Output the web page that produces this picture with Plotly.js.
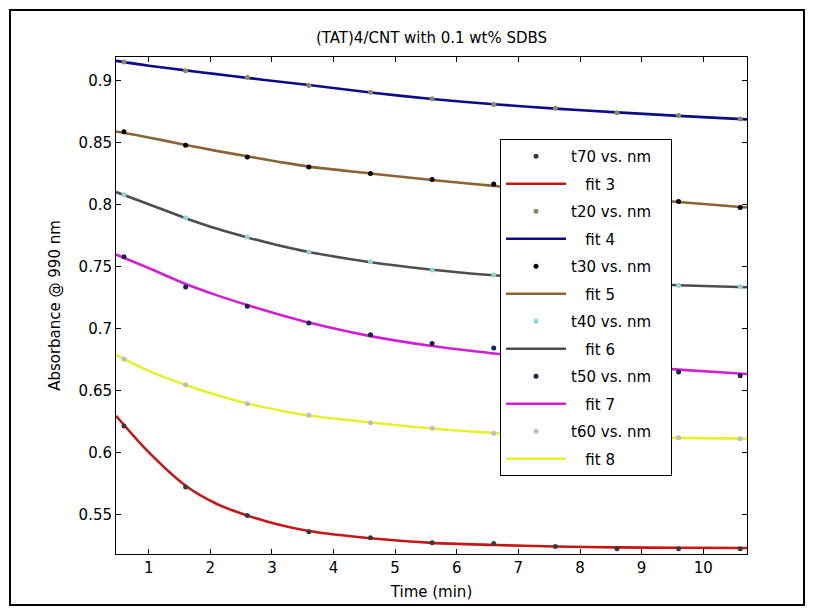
<!DOCTYPE html>
<html>
<head>
<meta charset="utf-8">
<script src="https://cdn.plot.ly/plotly-3.0.1.min.js"></script>
<style>html,body{margin:0;padding:0;background:#fff;}#chart{width:814px;height:615px;}</style>
</head>
<body>
<div id="chart"></div>
<script>
// measurement times (min)
const time = [0.6, 1.6, 2.6, 3.6, 4.6, 5.6, 6.6, 7.6, 8.6, 9.6, 10.6];
const fitTime = [0.47, 1.0, 1.6, 2.1, 2.6, 3.1, 3.6, 4.6, 5.6, 6.6, 7.6, 8.6, 9.6, 10.71];

// data series (absorbance @ 990 nm)
const t70 = [0.6215, 0.5725, 0.5495, 0.5365, 0.5315, 0.5275, 0.527, 0.5245, 0.5228, 0.5228, 0.5228];
const t20 = [0.9148, 0.9078, 0.9022, 0.8958, 0.8905, 0.8852, 0.8806, 0.8775, 0.8738, 0.8716, 0.8688];
const t30 = [0.8585, 0.8478, 0.8383, 0.8302, 0.825, 0.8202, 0.8165, 0.8105, 0.8062, 0.8024, 0.7975];
const t40 = [0.8078, 0.7893, 0.7738, 0.7615, 0.7538, 0.7472, 0.7433, 0.7392, 0.7372, 0.7348, 0.7337];
const t50 = [0.758, 0.7335, 0.718, 0.7045, 0.695, 0.688, 0.6845, 0.676, 0.6705, 0.665, 0.662];
const t60 = [0.6755, 0.6548, 0.6395, 0.6302, 0.6242, 0.6198, 0.6158, 0.6142, 0.6126, 0.6122, 0.6113];

// fitted curves
const fit3 = [0.6298, 0.6005, 0.5735, 0.559, 0.5495, 0.5422, 0.537, 0.5312, 0.5275, 0.5258, 0.5245, 0.5238, 0.5235, 0.5233];
const fit4 = [0.9157, 0.9118, 0.908, 0.905, 0.902, 0.899, 0.8962, 0.8902, 0.885, 0.8808, 0.8772, 0.8742, 0.8714, 0.8686];
const fit5 = [0.8588, 0.854, 0.848, 0.8432, 0.8388, 0.8345, 0.8305, 0.825, 0.8198, 0.815, 0.8105, 0.8062, 0.802, 0.7976];
const fit6 = [0.81, 0.8002, 0.789, 0.7806, 0.7735, 0.7672, 0.7618, 0.7535, 0.7475, 0.743, 0.7395, 0.737, 0.735, 0.7333];
const fit7 = [0.7597, 0.7488, 0.736, 0.727, 0.719, 0.7117, 0.705, 0.694, 0.686, 0.68, 0.675, 0.6705, 0.667, 0.6635];
const fit8 = [0.6788, 0.666, 0.6546, 0.6465, 0.6398, 0.6345, 0.63, 0.6244, 0.6196, 0.616, 0.614, 0.6128, 0.612, 0.6114];

// labels
const dataNames = ['t70 vs. nm', 't20 vs. nm', 't30 vs. nm', 't40 vs. nm', 't50 vs. nm', 't60 vs. nm'];
const fitNames = ['fit 3', 'fit 4', 'fit 5', 'fit 6', 'fit 7', 'fit 8'];
const yTicks = [0.55, 0.6, 0.65, 0.7, 0.75, 0.8, 0.85, 0.9];
const yTickText = ['0.55', '0.6', '0.65', '0.7', '0.75', '0.8', '0.85', '0.9'];
const xTicks = [1, 2, 3, 4, 5, 6, 7, 8, 9, 10];

const dataSeries = [t70, t20, t30, t40, t50, t60];
const fitSeries = [fit3, fit4, fit5, fit6, fit7, fit8];
const dataColors = ['#3a3a3a', '#8a8a6a', '#000000', '#8fd6d0', '#202050', '#bdbdbd'];
const fitColors = ['#c41818', '#0c0c88', '#8a6434', '#4e4e4e', '#d020d0', '#e6f030'];

const FONT = 'DejaVu Sans, Arial, sans-serif';
const pad = '\u00a0\u00a0\u00a0';
const tail = '\u00a0\u00a0\u00a0';

const traces = [];
for (let i = 0; i < fitSeries.length; i++) {
  traces.push({
    type: 'scatter', mode: 'lines', x: fitTime, y: fitSeries[i],
    name: pad + fitNames[i], legendgroup: 'f' + i, legendrank: 2 * i + 2,
    line: {color: fitColors[i], width: 2.6, shape: 'spline', smoothing: 0.8}
  });
}
for (let i = 0; i < dataSeries.length; i++) {
  traces.push({
    type: 'scatter', mode: 'markers', x: time, y: dataSeries[i],
    name: dataNames[i] + tail, legendgroup: 'd' + i, legendrank: 2 * i + 1,
    marker: {color: dataColors[i], size: 5, symbol: 'circle'}
  });
}

const layout = {
  width: 814, height: 615,
  margin: {l: 116, r: 67, t: 57, b: 61},
  paper_bgcolor: '#fff', plot_bgcolor: '#fff',
  font: {family: FONT, size: 15, color: '#000'},
  title: {text: '(TAT)4/CNT with 0.1 wt% SDBS', font: {family: FONT, size: 15, color: '#000'},
          x: 0.5, xref: 'paper', y: 1, yref: 'paper', yanchor: 'bottom', pad: {b: 14}},
  xaxis: {
    range: [0.47, 10.71], tickvals: xTicks, ticks: 'inside', ticklen: 5, tickcolor: '#000',
    showline: true, linecolor: '#000', linewidth: 1, mirror: 'ticks', showgrid: false, zeroline: false,
    tickfont: {family: FONT, size: 15, color: '#000'},
    title: {text: 'Time (min)', font: {family: FONT, size: 15, color: '#000'}, standoff: 10}
  },
  yaxis: {
    range: [0.5185, 0.9188], tickvals: yTicks, ticktext: yTickText, ticks: 'inside', ticklen: 5, tickcolor: '#000',
    showline: true, linecolor: '#000', linewidth: 1, mirror: 'ticks', showgrid: false, zeroline: false,
    tickfont: {family: FONT, size: 15, color: '#000'},
    title: {text: 'Absorbance @ 990 nm', font: {family: FONT, size: 15, color: '#000'}, standoff: 14}
  },
  showlegend: true,
  legend: {
    x: 0.6086, y: 0.835, xanchor: 'left', yanchor: 'top',
    bgcolor: '#fff', bordercolor: '#000', borderwidth: 1,
    font: {family: FONT, size: 15, color: '#000'},
    traceorder: 'grouped', tracegroupgap: 5, itemwidth: 60
  },
  shapes: [
    {type: 'rect', xref: 'paper', yref: 'paper', x0: -0.168, x1: 1.0903, y0: -0.1026, y1: 1.0946,
     line: {color: '#000', width: 2}, fillcolor: 'rgba(0,0,0,0)', layer: 'below'}
  ]
};

Plotly.newPlot('chart', traces, layout, {displayModeBar: false, staticPlot: true});
</script>
</body>
</html>
